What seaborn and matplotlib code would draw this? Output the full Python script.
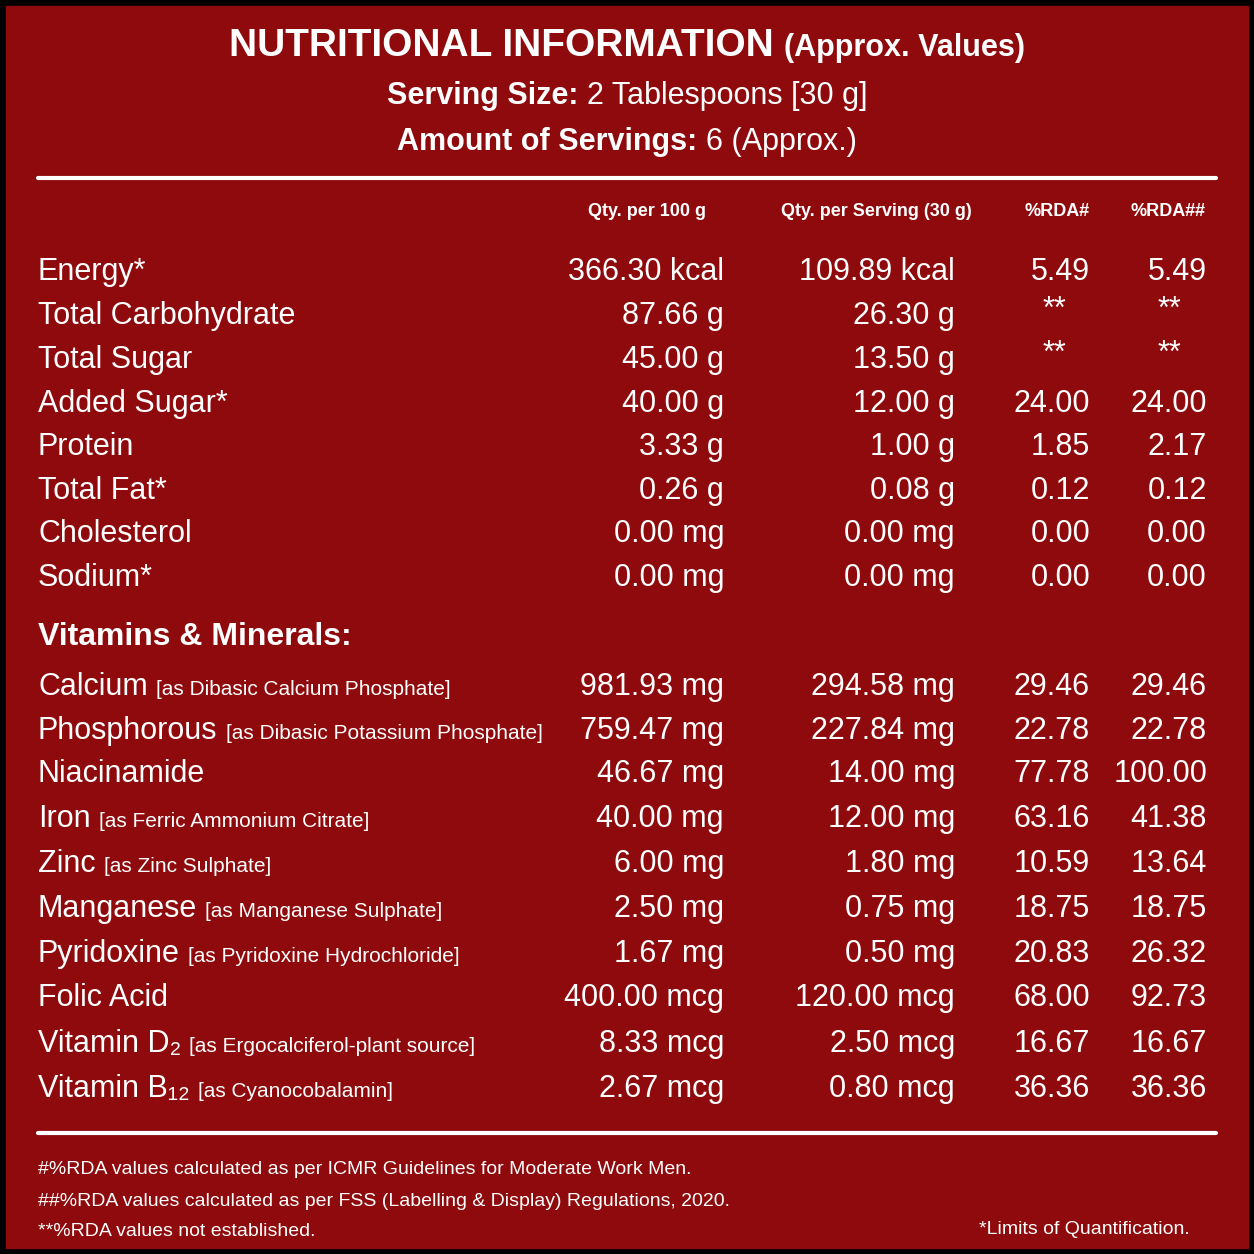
import matplotlib
matplotlib.use("Agg")
import matplotlib.pyplot as plt
import seaborn as sns

sns.set_theme(style="white")
SANS = ['Liberation Sans', 'DejaVu Sans']

col_headers = ["Qty. per 100 g", "Qty. per Serving (30 g)", "%RDA#", "%RDA##"]
nut_names = ["Energy*", "Total Carbohydrate", "Total Sugar", "Added Sugar*", "Protein",
             "Total Fat*", "Cholesterol", "Sodium*"]
nut_per100 = ["366.30 kcal", "87.66 g", "45.00 g", "40.00 g", "3.33 g", "0.26 g", "0.00 mg", "0.00 mg"]
nut_serv = ["109.89 kcal", "26.30 g", "13.50 g", "12.00 g", "1.00 g", "0.08 g", "0.00 mg", "0.00 mg"]
nut_rda1 = ["5.49", "**", "**", "24.00", "1.85", "0.12", "0.00", "0.00"]
nut_rda2 = ["5.49", "**", "**", "24.00", "2.17", "0.12", "0.00", "0.00"]

vit_names = ["Calcium", "Phosphorous", "Niacinamide", "Iron", "Zinc", "Manganese",
             "Pyridoxine", "Folic Acid", "Vitamin D₂", "Vitamin B₁₂"]
vit_src = ["[as Dibasic Calcium Phosphate]", "[as Dibasic Potassium Phosphate]", "",
           "[as Ferric Ammonium Citrate]", "[as Zinc Sulphate]", "[as Manganese Sulphate]",
           "[as Pyridoxine Hydrochloride]", "", "[as Ergocalciferol-plant source]",
           "[as Cyanocobalamin]"]
vit_per100 = ["981.93 mg", "759.47 mg", "46.67 mg", "40.00 mg", "6.00 mg", "2.50 mg",
              "1.67 mg", "400.00 mcg", "8.33 mcg", "2.67 mcg"]
vit_serv = ["294.58 mg", "227.84 mg", "14.00 mg", "12.00 mg", "1.80 mg", "0.75 mg",
            "0.50 mg", "120.00 mcg", "2.50 mcg", "0.80 mcg"]
vit_rda1 = ["29.46", "22.78", "77.78", "63.16", "10.59", "18.75", "20.83", "68.00", "16.67", "36.36"]
vit_rda2 = ["29.46", "22.78", "100.00", "41.38", "13.64", "18.75", "26.32", "92.73", "16.67", "36.36"]

footnotes = ["#%RDA values calculated as per ICMR Guidelines for Moderate Work Men.",
             "##%RDA values calculated as per FSS (Labelling & Display) Regulations, 2020.",
             "**%RDA values not established."]
footnote_right = "*Limits of Quantification."

fig = plt.figure(figsize=(12.54, 12.54), dpi=100)
fig.patch.set_facecolor('black')
ax = fig.add_axes([0, 0, 1, 1])
ax.set_xlim(0, 1254); ax.set_ylim(1254, 0); ax.axis('off')
ax.add_patch(plt.Rectangle((6, 6), 1242, 1242, color='#8e0a0c', zorder=0))
W = 'white'
r = fig.canvas.get_renderer()
inv = ax.transData.inverted()

def width(t):
    bb = t.get_window_extent(r)
    return bb.width

def centered_line(y, parts, cx=627):
    ts = [ax.text(0, y, s, ha='left', va='baseline', color=W, fontsize=fs,
                  fontweight=fw, family=SANS) for s, fs, fw in parts]
    ws = [width(t) for t in ts]
    x = cx - sum(ws) / 2
    for t, w in zip(ts, ws):
        t.set_x(x)
        x += w

centered_line(56, [("NUTRITIONAL INFORMATION ", 28, 'bold'), ("(Approx. Values)", 22, 'bold')])
centered_line(104, [("Serving Size: ", 22, 'bold'), ("2 Tablespoons [30 g]", 22, 'normal')])
centered_line(150, [("Amount of Servings: ", 22, 'bold'), ("6 (Approx.)", 22, 'normal')])

ax.plot([38, 1216], [178, 178], color=W, lw=3)
ax.plot([38, 1216], [1133, 1133], color=W, lw=3)

hx = [647, 876, 1057, 1168]
for x, h in zip(hx, col_headers):
    ax.text(x, 212, h, ha='center', va='center', color=W, fontsize=13, fontweight='bold', family=SANS)

rx = [724, 955, 1090, 1207]
rs = 22

def row(y, name, vals):
    t = ax.text(38, y, name, ha='left', va='baseline', color=W, fontsize=rs, family=SANS)
    for x, v in zip(rx, vals):
        if v == "**":
            ax.text(x - 36 if x < 1100 else x - 38, y - 6, v, ha='center', va='baseline',
                    color=W, fontsize=rs, family=SANS)
        else:
            ax.text(x, y, v, ha='right', va='baseline', color=W, fontsize=rs, family=SANS)
    return t

nut_y = [280, 324, 368, 412, 455, 499, 542, 586]
for i, n in enumerate(nut_names):
    row(nut_y[i], n, [nut_per100[i], nut_serv[i], nut_rda1[i], nut_rda2[i]])

ax.text(38, 645, "Vitamins & Minerals:", ha='left', va='baseline', color=W, fontsize=23,
        fontweight='bold', family=SANS)

vit_y = [695, 739, 782, 827, 872, 917, 962, 1006, 1052, 1097]
for i, n in enumerate(vit_names):
    t = row(vit_y[i], n, [vit_per100[i], vit_serv[i], vit_rda1[i], vit_rda2[i]])
    if vit_src[i]:
        x1 = 38 + width(t)
        ax.text(x1 + 8, vit_y[i], vit_src[i], ha='left', va='baseline', color=W,
                fontsize=15, family=SANS)

for j, f in enumerate(footnotes):
    ax.text(38, 1170 + j * 31, f, ha='left', va='center', color=W, fontsize=14, family=SANS)
ax.text(1190, 1230, footnote_right, ha='right', va='center', color=W, fontsize=14, family=SANS)

fig.savefig("out.png", dpi=100, facecolor='black')
